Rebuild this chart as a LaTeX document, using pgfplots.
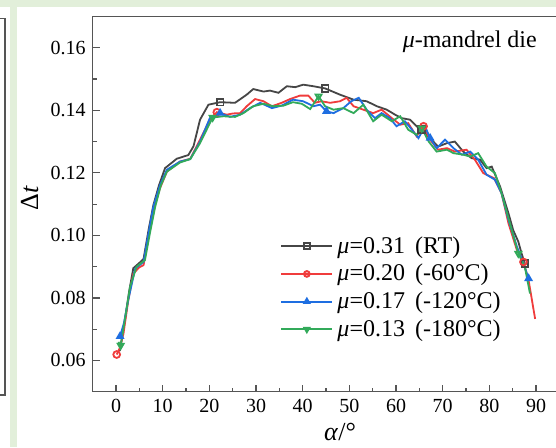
\documentclass[border=0pt]{standalone}
\usepackage{fontspec}
\setmainfont{Liberation Serif}
\usepackage{pgfplots}
\pgfplotsset{compat=1.18}
\definecolor{bgg}{RGB}{226,239,218}
\definecolor{cblk}{RGB}{70,70,70}
\definecolor{cred}{RGB}{240,60,60}
\definecolor{cblu}{RGB}{30,110,225}
\definecolor{cgrn}{RGB}{50,170,90}
\definecolor{axc}{RGB}{85,85,85}
\begin{document}
\begin{tikzpicture}
\path[use as bounding box] (0pt,0pt) rectangle (278pt,-223.5pt);
\clip (0pt,0pt) rectangle (278pt,-223.5pt);
\fill[bgg] (0pt,0pt) rectangle (278pt,-223.5pt);
\fill[white] (0pt,-3.5pt) rectangle (5pt,-223.5pt);
\fill[white] (8.5pt,-3.5pt) rectangle (278pt,-223.5pt);
\draw[line width=0.75pt, axc] (0pt,-9.2pt) -- (2.5pt,-9.2pt) -- (2.5pt,-197.5pt) -- (0pt,-197.5pt);
\begin{axis}[
  at={(46.35pt,-195.85pt)}, anchor=south west,
  scale only axis, width=233.33pt, height=187.6pt,
  xmin=-5, xmax=95, ymin=0.05, ymax=0.17,
  xtick={0,10,20,30,40,50,60,70,80,90}, minor x tick num=1,
  ytick={0.06,0.08,0.10,0.12,0.14,0.16}, minor y tick num=1,
  tick align=inside, major tick length=3.5pt, minor tick length=2pt,
  xtick pos=bottom, ytick pos=left,
  axis line style={axc, line width=0.65pt},
  every tick/.style={axc, line width=0.6pt},
  tick label style={font=\fontsize{10}{12}\selectfont},
  /pgf/number format/assume math mode=true,
  yticklabel style={/pgf/number format/fixed, /pgf/number format/precision=2, /pgf/number format/fixed zerofill},
  xlabel={\textit{α}/°},
  ylabel={Δ\textit{t}},
  every axis x label/.style={at={(axis description cs:0.53,-0.107)}, anchor=center, font=\fontsize{13}{15}\selectfont},
  every axis y label/.style={at={(axis description cs:-0.135,0.516)}, anchor=center, rotate=90, font=\fontsize{13}{15}\selectfont},
  legend style={draw=none, fill=none, at={(axis description cs:0.401,0.4255)}, anchor=north west,
     font=\fontsize{12}{13}\selectfont, inner sep=0pt, row sep=0pt},
  legend cell align=left,
  legend image code/.code={\draw[#1, line width=1pt, mark indices={2}, mark size=1.4pt] plot coordinates {(0cm,0cm) (0.45cm,0cm) (0.9cm,0cm)};},
  every axis plot/.append style={line width=0.9pt, mark size=1.7pt},
]
\addplot[cblk, mark=square, mark options={fill=white, solid}, mark indices={16,27,37,52}] coordinates {
(0.8,0.0630) (1.8,0.0720) (2.8,0.0820) (3.7,0.0895) (5.0,0.0912) (5.9,0.0925) (7.0,0.1020) (8.0,0.1097)
(9.2,0.1160) (10.5,0.1215) (13.0,0.1245) (15.5,0.1257) (16.6,0.1285) (18.0,0.1370) (19.8,0.1418) (22.3,0.1426)
(25.5,0.1424) (28.0,0.1450) (29.4,0.1468) (31.6,0.1460) (33.0,0.1463) (34.8,0.1456) (36.6,0.1477) (38.4,0.1474)
(40.1,0.1482) (42.3,0.1477) (44.8,0.1470) (48.0,0.1450) (50.9,0.1434) (53.7,0.1429) (55.9,0.1413) (58.0,0.1402)
(59.8,0.1386) (61.2,0.1375) (63.0,0.1370) (64.4,0.1349) (65.4,0.1338) (67.3,0.1311) (69.0,0.1284) (70.9,0.1295)
(72.6,0.1300) (74.4,0.1268) (76.2,0.1247) (78.0,0.1242) (79.4,0.1215) (80.5,0.1220) (82.3,0.1156) (84.1,0.1070)
(85.1,0.1017) (86.2,0.0980) (86.9,0.0942) (87.6,0.0910)
};
\addlegendentry{\textit{μ}=0.31 \,(RT)}
\addplot[cred, mark=o, mark options={fill=white, solid}, mark indices={1,16,41,53}] coordinates {
(0.14,0.0619) (0.8,0.0640) (1.6,0.0686) (2.6,0.0790) (3.7,0.0878) (5.0,0.0898) (5.9,0.0905) (7.0,0.1000)
(8.0,0.1081) (9.4,0.1150) (10.9,0.1204) (13.7,0.1236) (15.9,0.1245) (18.0,0.1306) (20.1,0.1370) (21.6,0.1394)
(23.7,0.1386) (25.1,0.1390) (26.6,0.1391) (28.0,0.1413) (29.8,0.1436) (31.6,0.1429) (33.4,0.1413) (35.5,0.1424)
(37.3,0.1436) (39.4,0.1447) (41.2,0.1447) (42.6,0.1424) (44.0,0.1429) (45.9,0.1424) (48.0,0.1429) (49.4,0.1440)
(50.9,0.1413) (53.0,0.1402) (55.1,0.1391) (56.9,0.1402) (59.1,0.1375) (60.9,0.1354) (62.6,0.1359) (64.4,0.1317)
(65.9,0.1349) (67.3,0.1306) (69.0,0.1274) (70.9,0.1279) (72.6,0.1268) (75.1,0.1274) (76.9,0.1242) (78.7,0.1199)
(81.0,0.1183) (82.6,0.1135) (84.1,0.1038) (85.9,0.0953) (87.3,0.0915) (88.4,0.0857) (89.8,0.0733)
};
\addlegendentry{\textit{μ}=0.20 \,(-60°C)}
\addplot[cblu, mark=triangle*, mark options={fill=cblu, solid}, mark indices={1,14,25,39,52}] coordinates {
(0.86,0.0677) (1.7,0.0720) (2.6,0.0792) (4.1,0.0894) (5.9,0.0915) (7.0,0.1010) (8.0,0.1092) (9.4,0.1160)
(10.9,0.1210) (13.7,0.1236) (15.9,0.1244) (18.0,0.1300) (20.1,0.1375) (22.3,0.1391) (24.4,0.1379) (26.6,0.1386)
(28.7,0.1407) (30.9,0.1424) (33.4,0.1407) (35.5,0.1415) (37.9,0.1434) (40.1,0.1429) (42.3,0.1413) (43.7,0.1418)
(45.1,0.1397) (46.6,0.1391) (48.7,0.1407) (50.4,0.1429) (52.0,0.1440) (53.7,0.1402) (55.5,0.1375) (56.9,0.1391)
(58.7,0.1375) (60.1,0.1349) (61.9,0.1365) (63.4,0.1338) (64.8,0.1311) (66.2,0.1349) (67.3,0.1311) (68.7,0.1279)
(70.5,0.1306) (72.3,0.1279) (74.1,0.1258) (75.9,0.1268) (77.6,0.1242) (79.4,0.1194) (81.2,0.1178) (82.6,0.1135)
(84.1,0.1049) (85.9,0.0964) (87.3,0.0910) (88.4,0.0862)
};
\addlegendentry{\textit{μ}=0.17 \,(-120°C)}
\addplot[cgrn, mark=triangle, mark options={fill=white, solid, rotate=180}, mark indices={2,14,25,37,49}] coordinates {
(0.5,0.0659) (1.0,0.0648) (2.0,0.0740) (3.0,0.0835) (4.4,0.0900) (6.2,0.0921) (7.3,0.1010) (8.4,0.1092)
(9.6,0.1160) (10.9,0.1204) (13.7,0.1233) (15.9,0.1244) (18.0,0.1295) (20.7,0.1377) (23.0,0.1381) (25.5,0.1379)
(27.3,0.1391) (29.4,0.1413) (31.6,0.1421) (33.7,0.1413) (35.9,0.1415) (37.9,0.1426) (39.8,0.1421) (41.6,0.1404)
(43.4,0.1445) (44.8,0.1413) (46.6,0.1402) (48.7,0.1407) (50.9,0.1391) (53.0,0.1418) (55.1,0.1365) (56.9,0.1386)
(59.1,0.1365) (60.9,0.1381) (62.6,0.1338) (64.4,0.1322) (65.5,0.1343) (67.0,0.1300) (68.7,0.1268) (70.9,0.1274)
(72.3,0.1263) (74.4,0.1258) (75.9,0.1252) (77.6,0.1263) (79.4,0.1220) (81.2,0.1199) (82.6,0.1135) (84.8,0.1017)
(86.2,0.0942) (87.6,0.0899) (88.7,0.0814)
};
\addlegendentry{\textit{μ}=0.13 \,(-180°C)}
\node[font=\fontsize{12}{14}\selectfont] at (axis description cs:0.808,0.932) {\textit{μ}-mandrel die};
\end{axis}
\end{tikzpicture}
\end{document}
